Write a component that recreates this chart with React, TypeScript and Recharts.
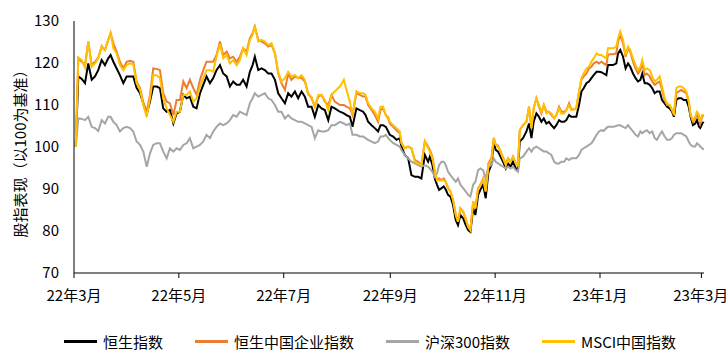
import { LineChart, Line, XAxis, YAxis } from "recharts";

// days since 2022-03-01
const days = [
  1, 2.5, 4.5, 6.4, 8.3, 10.3, 12.2, 14.1, 16.1, 18.0, 19.9, 21.3, 22.9, 24.8, 26.7, 28.7, 30.6, 32.6, 34.5, 36.4, 38.4, 40.3, 42.3, 44.2, 46.1, 48.1,
  50.0, 51.9, 53.9, 55.8, 57.8, 59.7, 61.6, 63.6, 65.5, 67.4, 69.4, 71.3, 73.3, 75.2, 77.1, 79.1, 81.0, 82.9, 84.9, 86.8, 88.8, 90.7, 92.6, 94.6, 96.5, 98.4, 100.4,
  102.3, 103.9, 105.2, 107.2, 109.1, 111.0, 113.0, 114.9, 116.9, 118.8, 120.7, 122.7, 124.6, 126.5, 128.5, 130.4, 132.4, 134.3, 136.2, 138.2, 140.1, 142.1, 144.0, 145.9, 147.9, 149.8, 151.7,
  154.7, 157.0, 158.5, 160.5, 162.0, 164.3, 166.3, 168.2, 169.6, 171.1, 173.1, 175.0, 176.9, 178.3, 179.8, 181.4, 182.8, 183.7, 185.7, 187.6, 189.5, 190.5, 192.4, 194.4, 196.3, 198.3, 200.2, 202.1, 204.1, 206.0,
  207.0, 208.5, 209.9, 211.2, 212.4, 213.8, 215.1, 216.3, 217.6, 219.0, 220.5, 222.1, 223.4, 224.8, 226.4, 227.9, 229.3, 230.6, 232.2, 233.5, 235.1, 236.4, 238.0, 239.5, 241.1, 242.8, 244.2, 245.3, 246.7, 248.1, 249.6, 251.2, 252.5, 253.9, 255.4, 257.0, 258.3,
  259.3, 261.2, 263.2, 264.7, 266.1, 267.4, 269.0, 270.5, 271.9, 273.3, 274.8, 276.3, 277.7, 279.3, 280.6, 282.2, 283.5, 285.1, 286.4, 288.0, 289.3, 290.9, 292.2, 293.8, 295.2, 296.5, 298.1, 299.6, 301.0, 302.3, 304.0, 305.4, 306.8, 308.1, 309.7, 310.6,
  311.6, 313.6, 315.5, 316.5, 317.8, 319.4, 320.9, 322.3, 323.6, 325.2, 326.7, 328.1, 329.5, 330.6, 332.0, 333.3, 334.9, 336.4, 337.8, 339.1, 340.7, 342.1, 343.6, 345.0, 346.5, 347.9, 349.0, 350.4, 351.7, 353.3, 354.7, 356.2, 357.6, 358.7, 360.1, 361.4, 362.4, 363.6, 364.3, 365.5, 366.3,
];

// 恒生指数
const hsi = [
  100, 116.8, 116.2, 115.2, 119.9, 116.0, 116.8, 118.3, 120.7, 119.5, 121.1, 121.9, 120.3, 118.7, 117.1, 115.2, 116.8, 116.8, 116.8, 114.1, 112.8, 110.4, 107.8, 110.8, 114.4, 114.4,
  114.0, 109.2, 108.4, 108.8, 105.6, 108.0, 108.4, 112.4, 111.6, 112.0, 109.6, 109.2, 112.8, 114.8, 116.8, 115.2, 116.4, 118.3, 119.5, 117.5, 116.8, 114.4, 115.6, 114.8, 114.8, 116.0, 114.4,
  117.9, 119.5, 121.5, 118.3, 118.7, 118.3, 117.5, 117.5, 116.0, 112.8, 111.6, 110.4, 112.8, 112.0, 113.2, 111.6, 113.2, 112.0, 109.6, 109.6, 107.2, 110.0, 109.2, 108.8, 106.4, 109.6, 109.2,
  108.4, 108.0, 107.6, 107.2, 104.8, 109.2, 108.8, 108.4, 107.6, 106.0, 105.2, 104.5, 103.7, 105.2, 105.2, 104.8, 103.7, 102.9, 102.5, 101.7, 102.1, 100.1, 98.1, 97.3, 93.3, 92.9, 92.9, 92.5, 98.1, 96.5,
  97.7, 95.7, 92.5, 91.0, 89.8, 90.2, 90.6, 89.8, 88.6, 88.2, 86.2, 82.6, 81.4, 83.8, 83.0, 81.4, 80.2, 79.8, 85.4, 83.8, 88.6, 89.8, 91.0, 87.8, 94.1, 95.7, 101.3, 99.3, 98.9, 97.7, 96.5, 94.9, 96.1, 95.3, 96.5, 94.9, 94.5,
  101.3, 102.1, 103.7, 105.6, 102.1, 106.0, 108.0, 107.2, 106.0, 106.8, 105.6, 106.0, 105.2, 104.5, 105.2, 106.4, 106.0, 106.0, 106.4, 107.6, 107.2, 107.2, 107.2, 110.0, 113.2, 114.0, 115.2, 115.6, 116.4, 117.1, 117.9, 117.9, 117.8, 117.5, 117.1, 119.5,
  119.5, 119.5, 119.9, 122.3, 123.1, 121.5, 118.7, 119.9, 119.1, 117.5, 116.4, 115.6, 116.0, 117.5, 115.2, 115.2, 114.8, 114.0, 112.8, 113.2, 113.2, 111.2, 110.4, 109.6, 109.2, 108.4, 107.2, 111.2, 111.6, 111.6, 111.2, 111.2, 109.6, 107.2, 105.2, 105.6, 106.4, 104.8, 104.5, 105.6, 106.0,
];

// 恒生中国企业指数
const hscei = [
  100, 121.1, 120.3, 119.5, 125.1, 119.5, 120.3, 121.3, 123.9, 123.1, 125.5, 127.1, 124.7, 122.7, 120.3, 118.7, 120.3, 120.5, 120.3, 115.6, 114.0, 110.6, 108.4, 112.4, 118.7, 118.6,
  118.3, 112.8, 110.8, 110.4, 107.6, 111.2, 111.2, 115.6, 114.0, 116.0, 114.0, 112.4, 116.0, 118.3, 120.3, 120.3, 120.3, 121.9, 125.1, 121.9, 122.7, 121.1, 121.5, 120.3, 121.5, 123.5, 122.7,
  125.9, 127.1, 128.7, 125.5, 125.1, 124.7, 123.9, 124.3, 122.3, 117.5, 115.2, 113.6, 117.5, 116.0, 116.8, 116.4, 116.4, 115.6, 112.8, 111.6, 109.6, 112.0, 112.4, 110.8, 110.0, 112.4, 110.8,
  110.0, 110.0, 109.6, 109.2, 107.6, 112.8, 112.4, 112.0, 112.0, 110.0, 108.8, 107.6, 106.0, 108.8, 109.2, 107.6, 106.8, 105.6, 104.8, 104.0, 103.3, 100.9, 99.7, 100.1, 99.7, 96.9, 96.5, 95.7, 101.4, 100.1,
  99.3, 97.7, 94.1, 92.1, 92.5, 92.1, 92.5, 91.7, 90.2, 89.4, 87.4, 83.8, 82.2, 85.4, 84.6, 82.6, 81.0, 80.2, 87.0, 85.4, 90.2, 91.0, 92.5, 89.4, 96.1, 97.3, 102.2, 100.6, 100.3, 99.0, 97.5, 95.9, 97.3, 96.5, 97.7, 96.1, 95.7,
  104.0, 105.2, 106.0, 109.6, 104.5, 109.2, 111.6, 109.6, 108.0, 110.0, 108.4, 108.4, 107.6, 106.8, 107.6, 109.6, 108.4, 108.4, 108.8, 110.4, 109.0, 109.0, 109.2, 113.2, 116.0, 116.8, 117.5, 118.7, 119.1, 119.9, 120.3, 119.9, 120.3, 119.9, 119.5, 121.9,
  122.1, 122.1, 122.3, 125.1, 126.7, 124.7, 121.5, 123.5, 122.7, 120.3, 118.7, 117.5, 118.3, 119.9, 117.1, 117.5, 116.8, 115.6, 114.8, 115.2, 115.6, 113.6, 111.2, 110.0, 110.0, 108.8, 107.6, 112.8, 113.2, 113.6, 113.2, 112.8, 110.8, 107.6, 106.0, 106.8, 107.6, 106.8, 105.6, 107.2, 107.6,
];

// 沪深300指数
const csi300 = [
  100, 106.8, 106.7, 106.4, 107.2, 104.8, 104.5, 103.8, 106.4, 105.6, 107.2, 107.2, 106.0, 105.2, 103.7, 104.5, 104.8, 104.5, 103.7, 101.3, 100.5, 98.9, 95.3, 98.5, 100.5, 100.9,
  100.9, 98.9, 97.3, 99.7, 98.9, 99.7, 99.3, 100.5, 100.9, 102.1, 99.7, 100.1, 100.5, 101.3, 102.9, 102.1, 103.7, 104.8, 105.6, 105.2, 105.6, 106.4, 107.6, 107.2, 108.4, 108.0, 107.6,
  110.4, 111.6, 112.8, 112.0, 112.4, 112.8, 111.6, 111.2, 110.0, 108.4, 108.4, 106.8, 107.6, 106.8, 106.4, 106.0, 106.0, 105.6, 105.2, 104.8, 102.1, 104.0, 103.7, 103.7, 104.0, 105.2, 105.2,
  106.0, 105.6, 105.2, 105.6, 102.9, 102.9, 102.5, 102.5, 102.1, 101.7, 101.3, 100.9, 101.3, 102.5, 102.5, 102.9, 102.1, 101.7, 100.9, 100.5, 100.1, 99.3, 98.1, 97.3, 96.5, 96.1, 95.7, 95.3, 95.7, 95.3,
  94.9, 94.1, 92.9, 93.7, 95.7, 96.5, 96.5, 95.7, 94.1, 93.3, 92.5, 91.7, 92.5, 91.0, 90.2, 89.4, 88.6, 88.2, 91.0, 91.7, 94.5, 94.9, 94.5, 92.5, 95.3, 95.7, 97.3, 96.5, 96.1, 95.7, 95.3, 94.9, 95.3, 94.9, 95.3, 94.5, 94.1,
  97.3, 97.7, 98.9, 99.7, 98.9, 99.7, 100.1, 99.7, 99.3, 98.9, 98.9, 98.5, 98.1, 96.5, 96.1, 96.1, 96.5, 96.5, 97.3, 96.9, 97.3, 97.3, 97.3, 98.1, 99.3, 99.7, 100.1, 100.5, 100.9, 101.7, 102.9, 103.7, 104.0, 103.8, 104.5, 104.8,
  104.8, 104.8, 105.0, 105.2, 105.2, 104.8, 104.5, 105.2, 104.5, 103.7, 102.9, 102.5, 103.7, 103.3, 103.7, 104.0, 103.3, 103.7, 102.1, 101.7, 102.9, 103.7, 102.5, 101.7, 101.7, 102.1, 102.9, 103.3, 103.3, 103.3, 102.9, 102.5, 101.3, 100.5, 100.1, 100.1, 100.9, 100.5, 100.1, 99.7, 99.3,
];

// MSCI中国指数
const msci = [
  100, 121.3, 120.7, 118.9, 125.1, 119.1, 119.9, 121.1, 124.1, 123.1, 125.5, 127.1, 123.5, 122.3, 119.5, 118.3, 119.5, 119.9, 119.7, 115.2, 113.6, 110.0, 107.2, 111.6, 117.1, 117.1,
  116.4, 111.6, 109.2, 107.6, 106.0, 108.4, 108.4, 112.4, 112.4, 113.2, 110.8, 111.6, 114.4, 116.4, 118.3, 118.3, 117.9, 121.5, 124.5, 121.1, 121.9, 119.9, 120.7, 119.5, 120.7, 123.5, 121.9,
  125.5, 126.7, 128.7, 125.1, 125.5, 125.1, 124.3, 124.7, 122.3, 117.9, 115.6, 116.4, 117.9, 116.8, 117.1, 116.4, 117.1, 116.0, 112.4, 112.0, 109.6, 112.4, 112.4, 111.2, 108.8, 112.4, 113.2,
  114.4, 116.0, 113.6, 110.8, 107.6, 113.3, 112.8, 112.8, 112.4, 110.4, 109.2, 108.4, 106.8, 109.6, 109.6, 107.6, 107.2, 106.0, 105.2, 104.5, 103.7, 100.9, 99.7, 100.1, 99.7, 96.5, 96.1, 95.7, 101.3, 99.7,
  98.9, 97.3, 94.1, 92.1, 92.1, 92.1, 92.1, 91.7, 90.2, 89.4, 87.4, 83.8, 82.2, 85.4, 84.6, 83.0, 81.0, 80.2, 87.0, 85.4, 90.2, 91.0, 92.5, 89.4, 95.7, 96.9, 102.1, 100.5, 100.1, 98.9, 97.3, 95.7, 97.3, 96.5, 97.7, 96.1, 95.7,
  104.0, 105.2, 106.0, 109.6, 104.5, 109.2, 111.6, 110.0, 108.4, 110.0, 108.0, 108.4, 108.0, 106.8, 107.6, 109.2, 108.0, 108.0, 108.8, 110.0, 108.8, 109.0, 109.2, 113.2, 116.4, 117.5, 118.7, 119.1, 120.3, 121.1, 122.3, 121.9, 121.9, 121.5, 121.1, 123.5,
  123.5, 123.5, 123.9, 125.9, 127.5, 125.5, 121.9, 123.9, 123.1, 121.1, 119.5, 118.3, 119.1, 120.7, 118.3, 118.7, 118.3, 116.8, 115.6, 116.0, 116.8, 114.4, 111.6, 110.4, 110.0, 108.8, 108.0, 114.0, 114.4, 114.4, 114.0, 113.2, 111.2, 107.6, 106.4, 107.2, 108.4, 107.6, 106.0, 107.6, 107.6,
];

const monthTicks = [0, 61, 122, 184, 245, 306, 365];
const monthLabels = ["22年3月", "22年5月", "22年7月", "22年9月", "22年11月", "23年1月", "23年3月"];
const valueTicks = [70, 80, 90, 100, 110, 120, 130];

const series = [
  { key: "hsi", name: "恒生指数", color: "#000000" },
  { key: "hscei", name: "恒生中国企业指数", color: "#ED7D31" },
  { key: "csi300", name: "沪深300指数", color: "#A5A5A5" },
  { key: "msci", name: "MSCI中国指数", color: "#FFC000" },
];

const data = days.map((d, i) => ({
  d,
  hsi: hsi[i],
  hscei: hscei[i],
  csi300: csi300[i],
  msci: msci[i],
}));

const font = '"Noto Sans CJK SC", "Noto Sans", sans-serif';

export default function App() {
  return (
    <div style={{ position: "absolute", left: 0, top: 0, width: 727, height: 358, background: "#fff", fontFamily: font }}>
      <LineChart width={727} height={358} data={data} margin={{ top: 21, right: 23, bottom: 55, left: 0 }}>
        <XAxis
          dataKey="d"
          type="number"
          domain={[0, 366.5]}
          ticks={monthTicks}
          tickFormatter={(v: number) => monthLabels[monthTicks.indexOf(v)] ?? ""}
          height={30}
          tickSize={5}
          tickMargin={12}
          stroke="#000"
          tick={{ fill: "#000", fontSize: 15, fontFamily: font }}
        />
        <YAxis
          type="number"
          domain={[70, 130]}
          ticks={valueTicks}
          width={74}
          tickLine={false}
          tickSize={0}
          tickMargin={15}
          stroke="#000"
          tick={{ fill: "#000", fontSize: 15, fontFamily: font }}
          label={{
            content: () => (
              <text
                x={19}
                y={150}
                transform="rotate(-90 19 150)"
                textAnchor="middle"
                dominantBaseline="central"
                fontSize={15}
                fontFamily={font}
                fill="#000"
              >
                股指表现（以100为基准）
              </text>
            ),
          }}
        />
        {series.map((s) => (
          <Line
            key={s.key}
            type="linear"
            dataKey={s.key}
            name={s.name}
            stroke={s.color}
            strokeWidth={2}
            dot={false}
            isAnimationActive={false}
          />
        ))}
      </LineChart>
      <div style={{ position: "absolute", left: 64, top: 331, display: "flex", alignItems: "center", gap: 32, fontSize: 15, color: "#000" }}>
        {series.map((s) => (
          <div key={s.key} style={{ display: "flex", alignItems: "center", gap: 6 }}>
            <span style={{ display: "inline-block", width: 33, height: 2.5, background: s.color }} />
            <span>{s.name}</span>
          </div>
        ))}
      </div>
    </div>
  );
}
